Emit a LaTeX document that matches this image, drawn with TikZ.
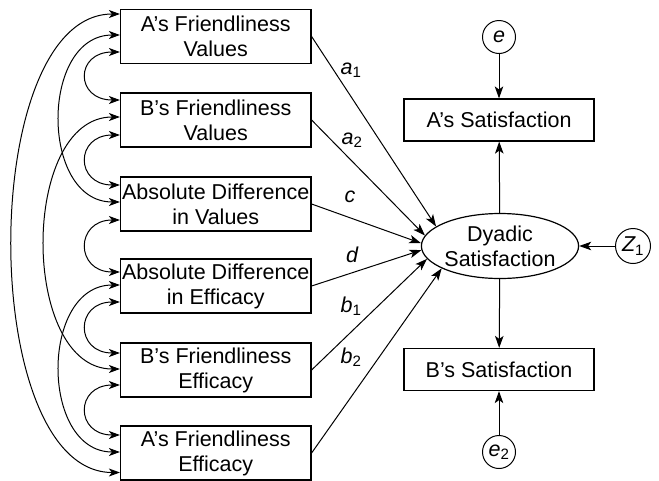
\documentclass[tikz,border=0pt]{standalone}
\usepackage{fontspec}
\setmainfont{Liberation Sans}
\usetikzlibrary{arrows.meta,shapes.geometric}
\begin{document}
\begin{tikzpicture}[x=1pt,y=-1pt,
  every node/.style={font=\fontsize{21.5}{25}\selectfont},
  box/.style={draw, line width=1.2pt, minimum width=190.5pt, minimum height=54pt, align=center, inner sep=0pt},
  outbox/.style={draw, line width=1.2pt, minimum width=190pt, minimum height=42pt, inner sep=0pt},
  err/.style={draw, circle, line width=1pt, minimum size=33pt, inner sep=0pt},
  lab/.style={inner sep=0pt},
  reg/.style={line width=1pt, -{Stealth[length=12pt,width=8.5pt,inset=3pt]}},
  cov/.style={line width=1pt, {Stealth[length=11pt,width=8pt,inset=3pt]}-{Stealth[length=11pt,width=8pt,inset=3pt]}}
]
\clip (0,0) rectangle (659,480);

% predictor boxes
\node[box] (b1) at (215.75,36.5) {A’s Friendliness\\Values};
\node[box] (b2) at (215.75,120) {B’s Friendliness\\Values};
\node[box] (b3) at (215.75,204) {Absolute Difference\\in Values};
\node[box] (b4) at (215.75,286) {Absolute Difference\\in Efficacy};
\node[box] (b5) at (215.75,370) {B’s Friendliness\\Efficacy};
\node[box] (b6) at (215.75,453) {A’s Friendliness\\Efficacy};

% latent and outcomes
\node[draw, ellipse, line width=1.2pt, minimum width=154pt, minimum height=65pt, inner sep=0pt, align=center] (dy) at (500,246) {Dyadic\\Satisfaction};
\node[outbox] (as) at (499,120) {A’s Satisfaction};
\node[outbox] (bs) at (499,369.5) {B’s Satisfaction};
\node[err] (e1) at (499,37) {\itshape e};
\node[err] (e2) at (499,452) {{\itshape e}\textsubscript{2}};
\node[err, minimum size=35pt] (z1) at (633,246) {{\itshape Z}\textsubscript{1}};

% structural arrows
\draw[reg] (e1) -- (as);
\draw[reg] (dy) -- (as);
\draw[reg] (dy) -- (bs);
\draw[reg] (e2) -- (bs);
\draw[reg] (z1) -- (dy);

\draw[reg] (b1.east) -- (dy.163);
\draw[reg] (b2.east) -- (dy.172);
\draw[reg] (b3.east) -- (dy.178);
\draw[reg] (b4.east) -- (dy.183);
\draw[reg] (b5.east) -- (dy.190);
\draw[reg] (b6.east) -- (dy.201);

% path labels
\node[lab] (la1) at (351,70) {{\itshape a}\textsubscript{1}};
\node[lab] (la2) at (352,140) {{\itshape a}\textsubscript{2}};
\node[lab] (lc) at (350,197) {\itshape c};
\node[lab] (ld) at (352,255) {\itshape d};
\node[lab] (lb1) at (351,306) {{\itshape b}\textsubscript{1}};
\node[lab] (lb2) at (351,357) {{\itshape b}\textsubscript{2}};

% covariances
\draw[cov] ([yshift=22.5pt]b1.west) .. controls +(-143,0) and +(-143,0) .. ([yshift=-19.5pt]b6.west);
\draw[cov] ([yshift=1.5pt]b1.west) .. controls +(-80,0) and +(-80,0) .. ([yshift=2pt]b3.west);
\draw[cov] ([yshift=-15.5pt]b1.west) .. controls +(-45,0) and +(-45,0) .. ([yshift=20pt]b2.west);
\draw[cov] ([yshift=3pt]b2.west) .. controls +(-100,0) and +(-100,0) .. ([yshift=1pt]b5.west);
\draw[cov] ([yshift=-15pt]b2.west) .. controls +(-45,0) and +(-45,0) .. ([yshift=19pt]b3.west);
\draw[cov] ([yshift=-16pt]b3.west) .. controls +(-45,0) and +(-45,0) .. ([yshift=14pt]b4.west);
\draw[cov] ([yshift=1pt]b4.west) .. controls +(-80,0) and +(-80,0) .. ([yshift=1pt]b6.west);
\draw[cov] ([yshift=-16pt]b4.west) .. controls +(-45,0) and +(-45,0) .. ([yshift=17pt]b5.west);
\draw[cov] ([yshift=-15pt]b5.west) .. controls +(-45,0) and +(-45,0) .. ([yshift=18pt]b6.west);
\end{tikzpicture}
\end{document}
